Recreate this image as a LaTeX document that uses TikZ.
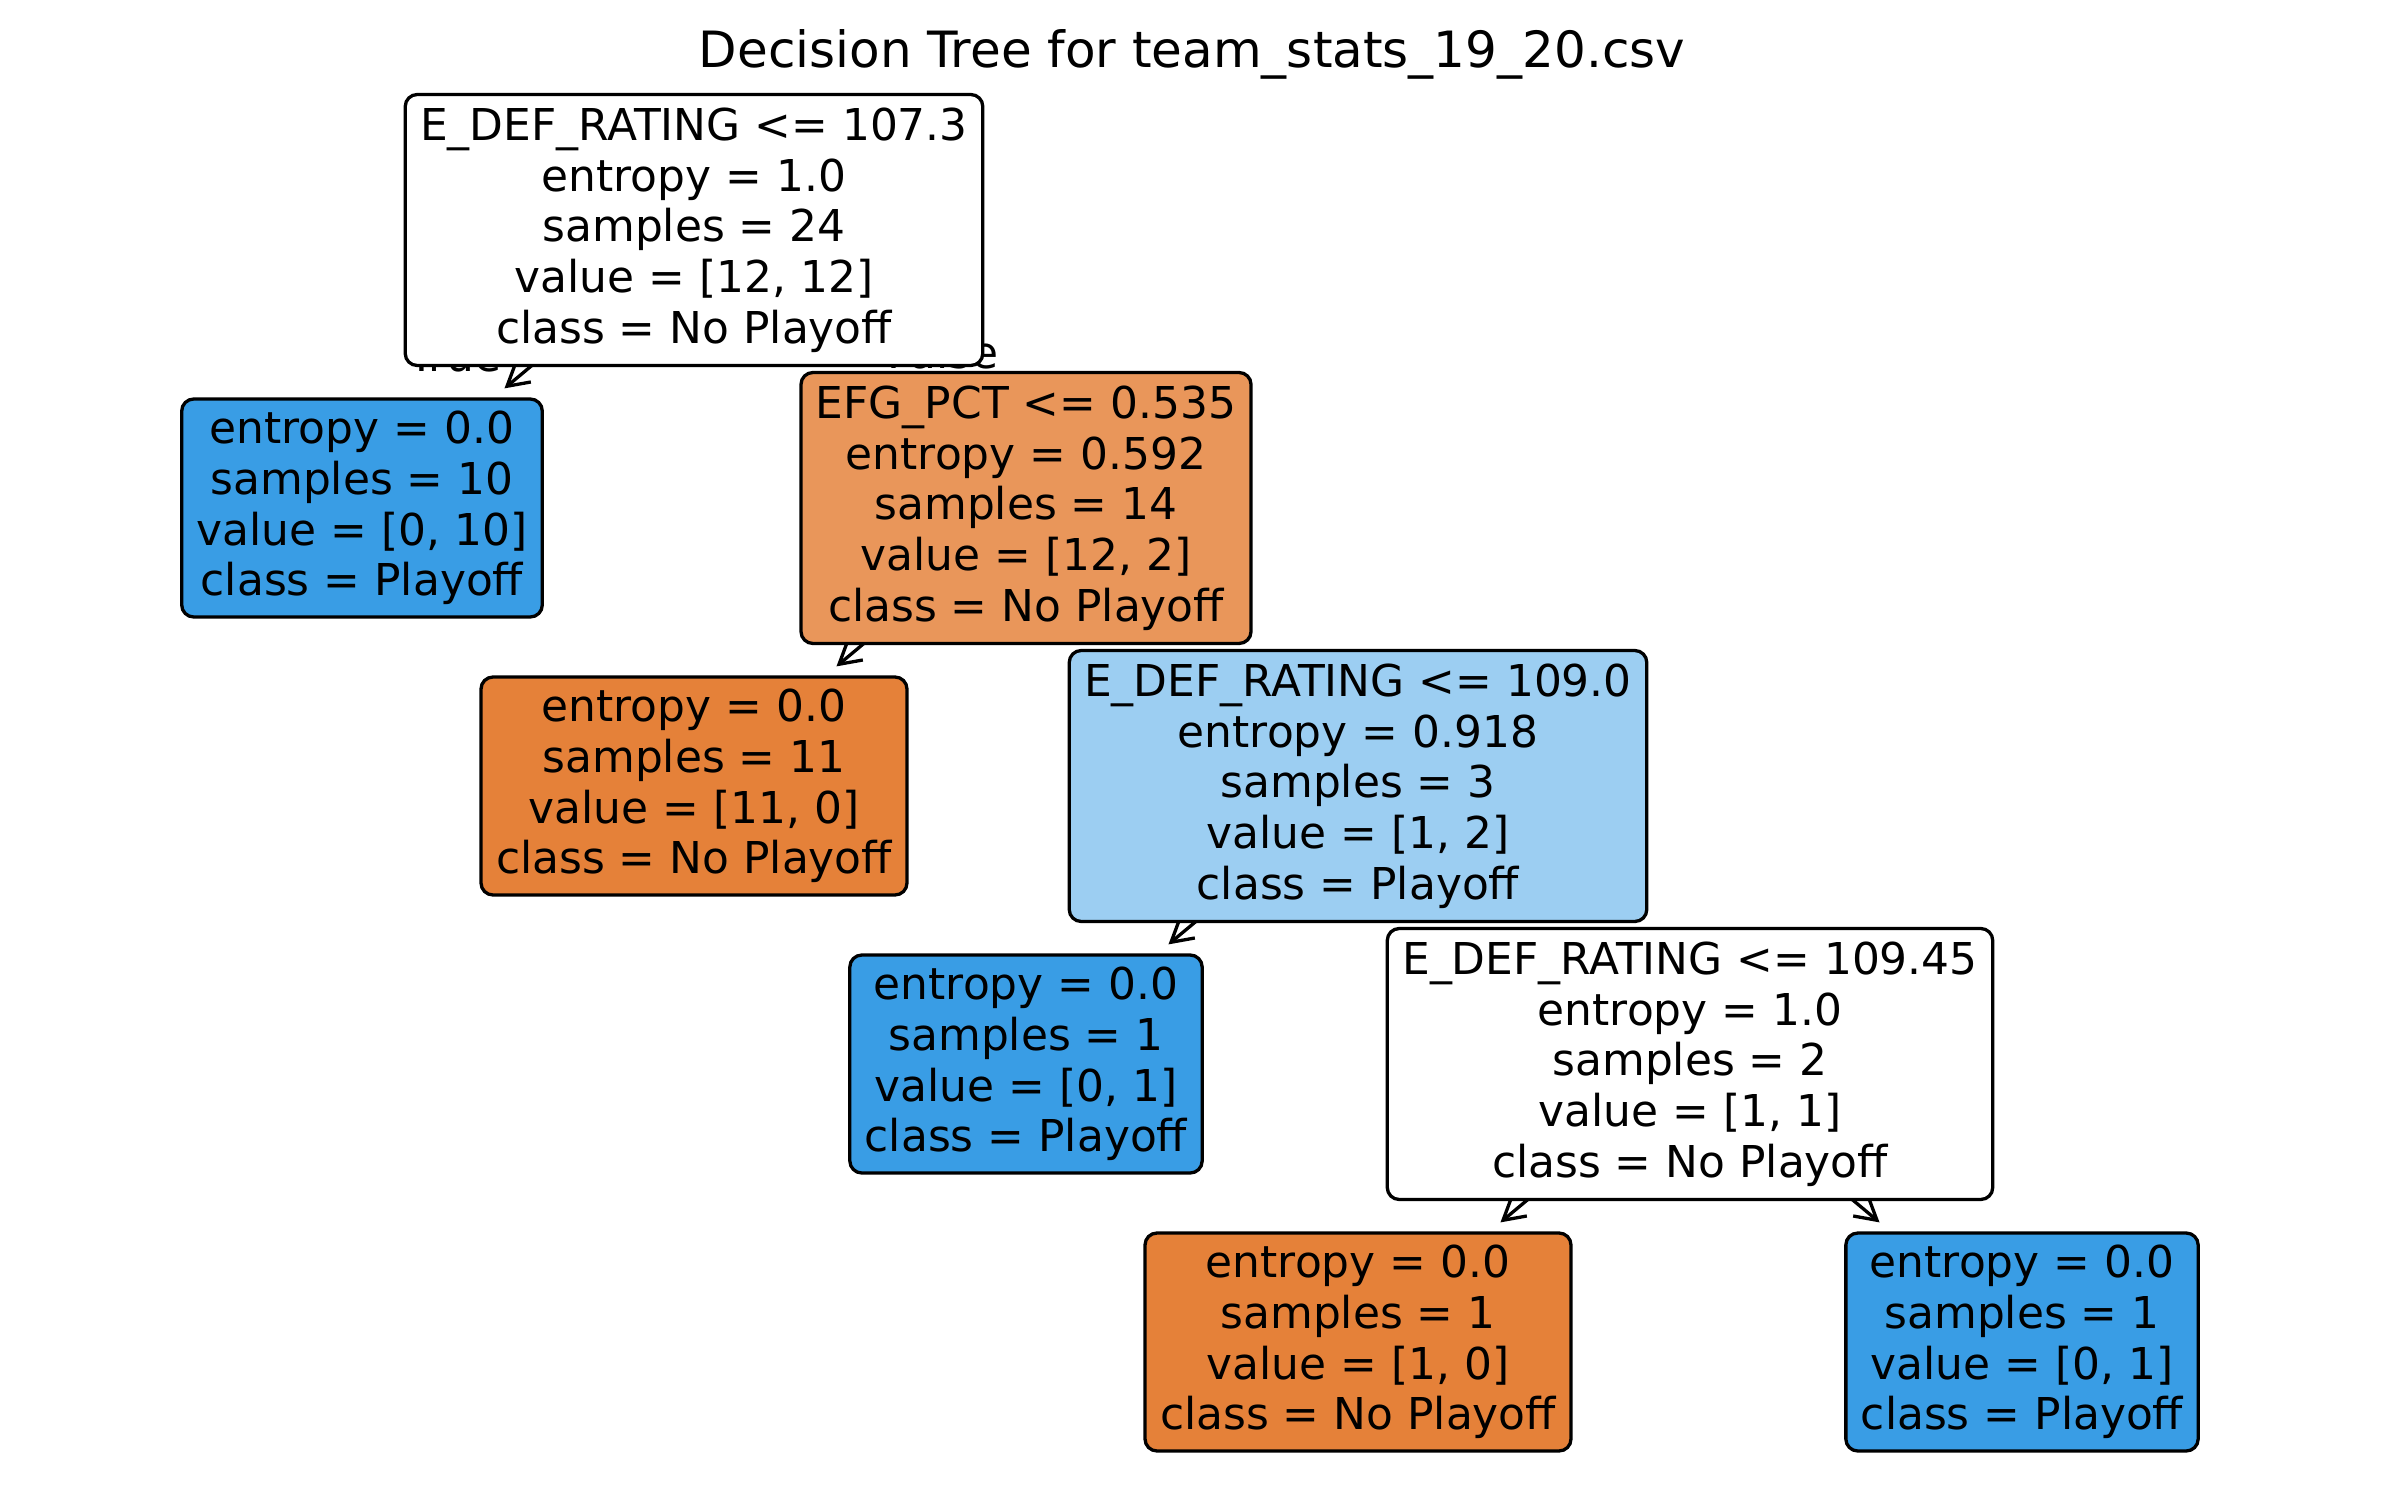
\documentclass[tikz,border=0pt]{standalone}
\usepackage{fontspec}
\setmainfont{DejaVu Sans}
\usetikzlibrary{positioning, arrows.meta, backgrounds}
\definecolor{playblue}{RGB}{57,157,229}
\definecolor{noplayorange}{RGB}{229,129,57}
\definecolor{mixorange}{RGB}{233,150,90}
\definecolor{mixblue}{RGB}{156,206,242}
\tikzstyle{split}=[draw, rounded corners=12pt, line width=3.3pt, align=center,
inner xsep=15pt, inner ysep=6pt, minimum height=271pt]
\tikzstyle{leaf}=[split, minimum height=218pt]
\tikzstyle{branch}=[->, line width=3.3pt, shorten >=14pt]

\begin{document}
\begin{tikzpicture}[x=1pt,y=-1pt,node distance=278pt and 332pt,on grid,
  >={Straight Barb[length=21pt,width=24pt]},
  font=\fontsize{43.9}{50.7}\selectfont]
  \useasboundingbox (0,0) rectangle (2385,1509);
  \node [anchor=base, font=\fontsize{50}{60}\selectfont] (title) at (1192,68)
    {Decision Tree for team\_stats\_19\_20.csv};
  \node [split, fill=white] (root) at (694,230)
    {E\_DEF\_RATING <= 107.3\\entropy = 1.0\\samples = 24\\value = [12, 12]\\class = No Playoff};
  \node [leaf, fill=playblue, below left=of root] (a)
    {entropy = 0.0\\samples = 10\\value = [0, 10]\\class = Playoff};
  \node [split, fill=mixorange, below right=of root] (b)
    {EFG\_PCT <= 0.535\\entropy = 0.592\\samples = 14\\value = [12, 2]\\class = No Playoff};
  \node [leaf, fill=noplayorange, below left=of b] (ba)
    {entropy = 0.0\\samples = 11\\value = [11, 0]\\class = No Playoff};
  \node [split, fill=mixblue, below right=of b] (bb)
    {E\_DEF\_RATING <= 109.0\\entropy = 0.918\\samples = 3\\value = [1, 2]\\class = Playoff};
  \node [leaf, fill=playblue, below left=of bb] (bba)
    {entropy = 0.0\\samples = 1\\value = [0, 1]\\class = Playoff};
  \node [split, fill=white, below right=of bb] (bbb)
    {E\_DEF\_RATING <= 109.45\\entropy = 1.0\\samples = 2\\value = [1, 1]\\class = No Playoff};
  \node [leaf, fill=noplayorange, below left=of bbb] (bbba)
    {entropy = 0.0\\samples = 1\\value = [1, 0]\\class = No Playoff};
  \node [leaf, fill=playblue, below right=of bbb] (bbbb)
    {entropy = 0.0\\samples = 1\\value = [0, 1]\\class = Playoff};
  % edges and split labels sit behind the boxes
  \begin{pgfonlayer}{background}
    \node [anchor=base] (truelbl) at (455,371) {True};
    \node [anchor=base] (falselbl) at (943,368) {False};
    \draw [branch] (root.center) -- (a);
    \draw [branch] (root.center) -- (b);
    \draw [branch] (b.center) -- (ba);
    \draw [branch] (b.center) -- (bb);
    \draw [branch] (bb.center) -- (bba);
    \draw [branch] (bb.center) -- (bbb);
    \draw [branch] (bbb.center) -- (bbba);
    \draw [branch] (bbb.center) -- (bbbb);
  \end{pgfonlayer}
\end{tikzpicture}
\end{document}
